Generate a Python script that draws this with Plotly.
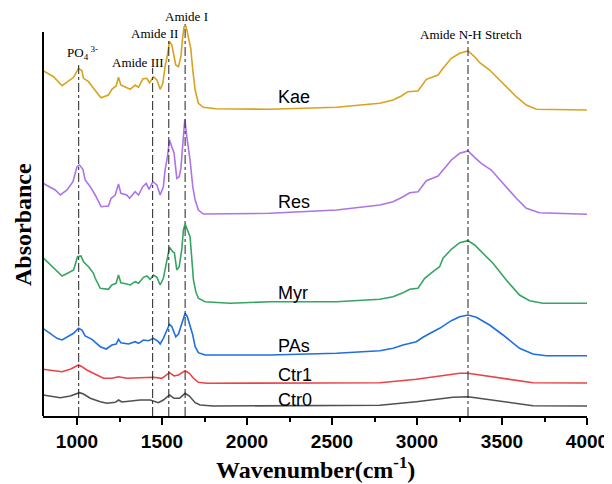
import plotly.graph_objects as go

# ---------------- data ----------------
kae_wn = [800, 862, 912, 950, 980, 1009, 1029, 1038, 1068, 1097, 1141, 1185, 1205, 1230, 1244, 1258,
          1293, 1313, 1342, 1362, 1387, 1411, 1426, 1450, 1470, 1489, 1505, 1518, 1532, 1544, 1558,
          1567, 1581, 1597, 1611, 1622, 1630, 1642, 1655, 1669, 1681, 1695, 1714, 1743, 1818, 1998,
          2135, 2527, 2781, 2859, 2908, 2947, 3006, 3055, 3124, 3153, 3202, 3251, 3300, 3339, 3369,
          3427, 3506, 3584, 3643, 3702, 4000]
kae_ab = [3.453, 3.393, 3.303, 3.35, 3.387, 3.477, 3.453, 3.377, 3.343, 3.277, 3.183, 3.21, 3.267,
          3.30, 3.387, 3.31, 3.287, 3.267, 3.31, 3.287, 3.37, 3.377, 3.333, 3.393, 3.36, 3.267,
          3.327, 3.493, 3.61, 3.743, 3.71, 3.643, 3.51, 3.493, 3.593, 3.793, 3.893, 3.893, 3.777,
          3.677, 3.46, 3.26, 3.127, 3.087, 3.073, 3.067, 3.067, 3.087, 3.127, 3.16, 3.20, 3.243,
          3.25, 3.367, 3.41, 3.477, 3.577, 3.627, 3.65, 3.593, 3.533, 3.46, 3.327, 3.193, 3.11,
          3.067, 3.06]

res_wn = [800, 872, 902, 941, 976, 1000, 1015, 1035, 1048, 1078, 1107, 1142, 1185, 1201, 1225, 1244,
          1258, 1293, 1309, 1342, 1362, 1387, 1407, 1424, 1446, 1470, 1489, 1508, 1518, 1532, 1544,
          1559, 1571, 1587, 1601, 1611, 1626, 1634, 1646, 1665, 1681, 1695, 1714, 1743, 2135, 2527,
          2781, 2859, 2918, 2957, 3006, 3055, 3124, 3163, 3202, 3251, 3300, 3339, 3378, 3437, 3506,
          3584, 3643, 3721, 4000]
res_ab = [2.327, 2.26, 2.21, 2.26, 2.343, 2.493, 2.51, 2.467, 2.36, 2.293, 2.21, 2.093, 2.10, 2.177,
          2.21, 2.32, 2.227, 2.21, 2.177, 2.243, 2.21, 2.293, 2.327, 2.267, 2.343, 2.31, 2.21, 2.293,
          2.46, 2.593, 2.76, 2.677, 2.627, 2.377, 2.393, 2.477, 2.76, 2.967, 2.793, 2.56, 2.293,
          2.16, 2.06, 2.02, 2.027, 2.06, 2.11, 2.143, 2.193, 2.233, 2.243, 2.353, 2.40, 2.477, 2.56,
          2.627, 2.65, 2.587, 2.527, 2.46, 2.327, 2.177, 2.077, 2.033, 2.017]

myr_wn = [800, 843, 882, 912, 950, 980, 1003, 1023, 1038, 1068, 1097, 1107, 1137, 1185, 1205, 1230,
          1244, 1258, 1293, 1313, 1342, 1362, 1391, 1411, 1430, 1450, 1470, 1489, 1508, 1518, 1532,
          1544, 1563, 1573, 1587, 1601, 1616, 1626, 1636, 1649, 1665, 1679, 1685, 1699, 1714, 1753,
          1900, 2135, 2527, 2781, 2859, 2918, 2957, 3006, 3045, 3094, 3133, 3153, 3202, 3251, 3300,
          3339, 3388, 3447, 3525, 3603, 3662, 3740, 4000]
myr_ab = [1.583, 1.51, 1.443, 1.40, 1.433, 1.46, 1.593, 1.60, 1.543, 1.493, 1.427, 1.377, 1.277,
          1.267, 1.31, 1.327, 1.41, 1.333, 1.32, 1.31, 1.343, 1.327, 1.387, 1.40, 1.367, 1.41,
          1.387, 1.31, 1.377, 1.46, 1.593, 1.687, 1.643, 1.633, 1.46, 1.493, 1.66, 1.86, 1.92,
          1.86, 1.793, 1.493, 1.36, 1.243, 1.177, 1.143, 1.127, 1.143, 1.143, 1.167, 1.193, 1.233,
          1.267, 1.277, 1.377, 1.443, 1.493, 1.577, 1.667, 1.733, 1.753, 1.71, 1.627, 1.527, 1.36,
          1.21, 1.153, 1.127, 1.127]

pas_wn = [800, 843, 882, 912, 950, 980, 1009, 1029, 1048, 1088, 1137, 1172, 1205, 1230, 1244, 1258,
          1303, 1342, 1362, 1391, 1420, 1450, 1479, 1489, 1508, 1528, 1544, 1558, 1581, 1597, 1616,
          1636, 1649, 1665, 1681, 1695, 1714, 1753, 2135, 2527, 2781, 2859, 2918, 2996, 3035, 3094,
          3133, 3202, 3251, 3300, 3349, 3427, 3506, 3603, 3682, 3760, 4000]
pas_ab = [0.877, 0.827, 0.777, 0.76, 0.793, 0.827, 0.877, 0.86, 0.80, 0.767, 0.693, 0.67, 0.71,
          0.72, 0.767, 0.733, 0.72, 0.743, 0.727, 0.76, 0.753, 0.777, 0.743, 0.72, 0.777, 0.86,
          0.917, 0.893, 0.793, 0.82, 0.927, 1.027, 0.993, 0.893, 0.81, 0.693, 0.633, 0.61, 0.61,
          0.627, 0.653, 0.677, 0.71, 0.743, 0.787, 0.843, 0.877, 0.953, 0.993, 1.01, 0.987, 0.91,
          0.81, 0.677, 0.62, 0.603, 0.603]

ctr1_wn = [800, 862, 912, 960, 990, 1009, 1029, 1058, 1117, 1156, 1205, 1244, 1293, 1391, 1450,
           1499, 1544, 1571, 1597, 1636, 1661, 1685, 1714, 1763, 2135, 2527, 2781, 2996, 3133, 3251,
           3300, 3369, 3525, 3682, 4000]
ctr1_ab = [0.467, 0.453, 0.443, 0.467, 0.493, 0.51, 0.493, 0.46, 0.41, 0.377, 0.377, 0.393, 0.377,
           0.387, 0.387, 0.377, 0.433, 0.40, 0.41, 0.453, 0.427, 0.377, 0.337, 0.327, 0.327, 0.333,
           0.333, 0.367, 0.40, 0.427, 0.427, 0.41, 0.367, 0.333, 0.33]

ctr0_wn = [800, 902, 960, 1015, 1038, 1078, 1137, 1176, 1225, 1244, 1264, 1313, 1372, 1430, 1479,
           1508, 1544, 1571, 1603, 1636, 1661, 1695, 1724, 1802, 2135, 2527, 2781, 2996, 3133, 3212,
           3300, 3369, 3525, 3682, 4000]
ctr0_ab = [0.21, 0.183, 0.20, 0.233, 0.22, 0.177, 0.143, 0.127, 0.137, 0.16, 0.14, 0.15, 0.16,
           0.16, 0.133, 0.16, 0.21, 0.177, 0.177, 0.227, 0.20, 0.133, 0.11, 0.10, 0.103, 0.103,
           0.107, 0.143, 0.167, 0.187, 0.193, 0.177, 0.137, 0.103, 0.10]

series_names = ["Kae", "Res", "Myr", "PAs", "Ctr1", "Ctr0"]
series_colors = ["#D9A21E", "#AD74E6", "#35A562", "#1F6FE2", "#EA4245", "#505050"]
series_wn = [kae_wn, res_wn, myr_wn, pas_wn, ctr1_wn, ctr0_wn]
series_ab = [kae_ab, res_ab, myr_ab, pas_ab, ctr1_ab, ctr0_ab]
label_x = 2170
label_y = [3.193, 2.143, 1.23, 0.70, 0.41, 0.16]

# peak marker lines: position, top, label text, label position
peak_wn = [1010, 1445, 1540, 1636, 3300]
peak_top = [3.54, 3.48, 3.77, 3.92, 3.75]
peak_text = ["PO<sub>4</sub><sup> 3-</sup>", "Amide III", "Amide II", "Amide I", "Amide N-H Stretch"]
peak_text_x = [1030, 1359, 1457, 1646, 3319]
peak_text_y = [3.63, 3.537, 3.827, 3.993, 3.82]

x_ticks = [1000, 1500, 2000, 2500, 3000, 3500, 4000]

SERIF = "Times New Roman, Liberation Serif, serif"
SANS = "Arial, Liberation Sans, sans-serif"

# ---------------- figure ----------------
fig = go.Figure()
for name, color, wn, ab in zip(series_names, series_colors, series_wn, series_ab):
    fig.add_trace(go.Scatter(x=wn, y=ab, mode="lines", name=name,
                             line=dict(color=color, width=1.6), cliponaxis=False))

shapes = []
for wn, top in zip(peak_wn, peak_top):
    shapes.append(dict(type="line", xref="x", yref="y", x0=wn, x1=wn, y0=0, y1=top,
                       line=dict(color="#222222", width=1, dash="dashdot"), layer="above"))
# left axis line (stops below the top of the plot area, as in the reference)
shapes.append(dict(type="line", xref="paper", yref="y", x0=0, x1=0, y0=0, y1=3.84,
                   line=dict(color="black", width=2)))

annotations = []
for name, y in zip(series_names, label_y):
    annotations.append(dict(x=label_x, y=y, xref="x", yref="y", text=name, showarrow=False,
                            xanchor="left", yanchor="middle",
                            font=dict(family=SANS, size=18, color="black")))
for t, x, y in zip(peak_text, peak_text_x, peak_text_y):
    annotations.append(dict(x=x, y=y, xref="x", yref="y", text=t, showarrow=False,
                            xanchor="center", yanchor="middle",
                            font=dict(family=SERIF, size=13, color="black")))
# axis titles
annotations.append(dict(x=0.5, y=0, xref="paper", yref="paper", yshift=-52,
                        text="<b>Wavenumber(cm<sup>-1</sup>)</b>", showarrow=False,
                        xanchor="center", yanchor="middle",
                        font=dict(family=SERIF, size=24, color="black")))
annotations.append(dict(x=0, y=1.91, xref="paper", yref="y", xshift=-20,
                        text="<b>Absorbance</b>", textangle=-90, showarrow=False,
                        xanchor="center", yanchor="middle",
                        font=dict(family=SERIF, size=24, color="black")))

# the page body adds an 8 px offset, so the figure is 8 px smaller with trimmed margins
fig.update_layout(
    width=604, height=476,
    margin=dict(l=35, r=25, t=2, b=68),
    paper_bgcolor="white", plot_bgcolor="white",
    showlegend=False,
    shapes=shapes, annotations=annotations,
    xaxis=dict(range=[800, 4000], tickvals=x_ticks, showgrid=False, zeroline=False,
               automargin=False,
               showline=True, linecolor="black", linewidth=2, ticks="outside", ticklen=7,
               tickwidth=1.5, tickcolor="black",
               minor=dict(dtick=250, tick0=0, ticks="outside", ticklen=4, tickwidth=1.5, tickcolor="black"),
               tickfont=dict(family=SANS, size=19, color="black", weight="bold")),
    yaxis=dict(range=[0, 4.06], showgrid=False, zeroline=False, showline=False,
               automargin=False, showticklabels=False, ticks=""),
)

fig.write_html("out.html")
